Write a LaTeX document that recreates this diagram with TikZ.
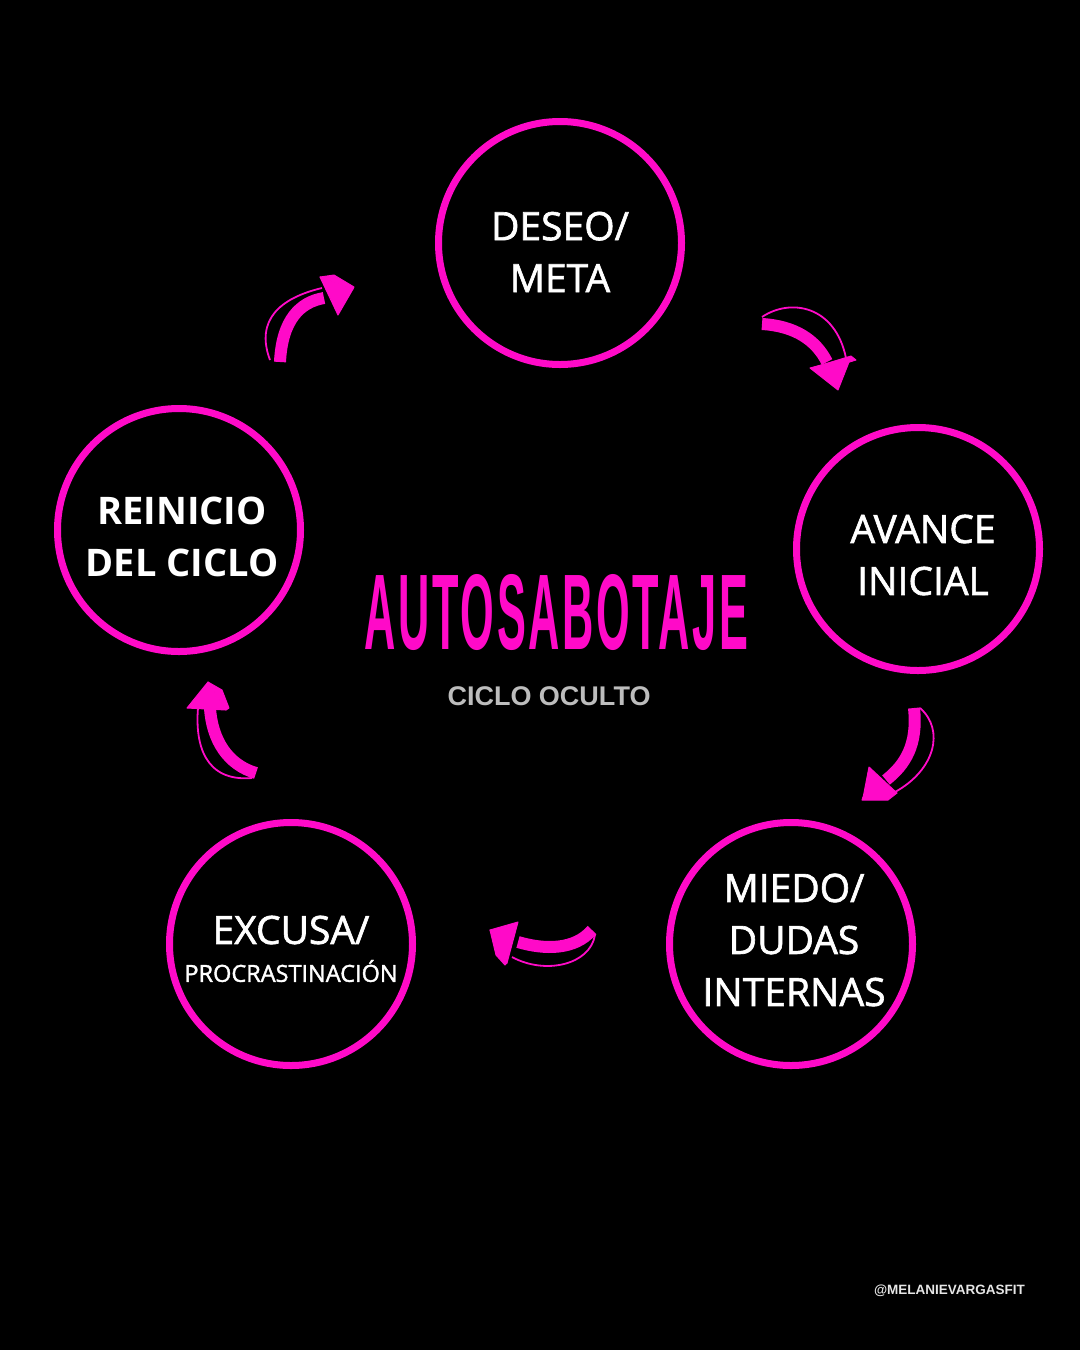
\documentclass[tikz,border=0pt]{standalone}
\usepackage{fontspec}
\setmainfont{Open Sans}
\newfontfamily\lblfont[FakeBold=1.6]{Open Sans}
\newfontfamily\arialfont{Liberation Sans}
\newfontfamily\titlefont[LetterSpace=6]{Liberation Sans}
\definecolor{mag}{HTML}{FF0AC8}
\definecolor{subgray}{HTML}{BDBDBD}
\definecolor{footgray}{HTML}{E6E6E6}
\begin{document}
\begin{tikzpicture}[x=1pt,y=-1pt,
  stage/.style={circle, draw=mag, line width=7pt, minimum size=243pt, inner sep=0pt},
  lbl/.style={text=white, font=\lblfont\fontsize{39}{52}\selectfont, align=center, inner sep=0pt},
  band/.style={draw=mag, line width=12pt},
  thinline/.style={draw=mag, line width=1.8pt},
  head/.style={fill=mag, draw=mag, line width=1pt, line join=round}]
\fill[black] (0,0) rectangle (1080,1350);
\useasboundingbox (0,0) rectangle (1080,1350);

% circles
\node[stage] (c1) at (560,243) {};
\node[stage] (c2) at (918,549) {};
\node[stage] (c3) at (791,944) {};
\node[stage] (c4) at (291,944) {};
\node[stage] (c5) at (179,530) {};

% labels
\node[lbl] (t1) at (560,252) {DESEO/\\META};
\node[lbl] (t2) at (923,555) {AVANCE\\INICIAL};
\node[lbl] (t3) at (794,940) {MIEDO/\\DUDAS\\INTERNAS};
\node[lbl] (t4) at (291,930) {EXCUSA/};
\node[text=white, font=\lblfont\fontsize{23.5}{26}\selectfont, inner sep=0pt] (t4b) at (291,971) {PROCRASTINACIÓN};
\node[lbl, font=\fontsize{38}{52}\selectfont\bfseries] (t5) at (182,537) {REINICIO\\DEL CICLO};

% title
\node[inner sep=0pt, text=mag] (title) at (556.5,612.5) {\resizebox{383pt}{75pt}{\titlefont\bfseries AUTOSABOTAJE}};
\node[text=subgray, font=\arialfont\bfseries\fontsize{27}{30}\selectfont, inner sep=0pt] (sub) at (549,696) {CICLO OCULTO};
\node[text=footgray, font=\arialfont\bfseries\fontsize{13.5}{16}\selectfont, inner sep=0pt] (foot) at (949.5,1291) {@MELANIEVARGASFIT};

% arrow 1: c1 -> c2
\draw[band] (762,324) .. controls (795,326) and (816,340) .. (827,362);
\draw[thinline] (762,317) .. controls (790,298) and (835,305) .. (846,358);
\fill[head] (812,368) -- (817,372) -- (856,360) -- (851,356) -- cycle;
\fill[head] (810,368) -- (851,357) -- (838,390) -- cycle;

% arrow 2: c2 -> c3
\draw[band] (914,708) .. controls (918,745) and (905,765) .. (886,780);
\draw[thinline] (920,708) .. controls (945,730) and (935,770) .. (895,792);
\fill[head] (897,793) -- (888,800) -- (862,800) -- (863,797) -- cycle;
\fill[head] (869,767) -- (897,793) -- (863,798) -- cycle;

% arrow 3: c3 -> c4
\draw[band] (592,930) .. controls (575,950) and (545,950) .. (518,942);
\draw[thinline] (595,935) .. controls (590,965) and (545,975) .. (512,957);
\fill[head] (490,930) -- (496,955) -- (505,965) -- (507,963) -- cycle;
\fill[head] (518,922) -- (507,963) -- (490,930) -- cycle;

% arrow 4: c4 -> c5
\draw[band] (256,773) .. controls (228,765) and (212,740) .. (210,708);
\draw[thinline] (252,778) .. controls (205,782) and (195,745) .. (198,708);
\fill[head] (208,682) -- (222,690) -- (229,708) -- (226,710) -- cycle;
\fill[head] (187,708) -- (226,710) -- (208,682) -- cycle;

% arrow 5: c5 -> c1
\draw[band] (280,362) .. controls (282,320) and (300,302) .. (324,298);
\draw[thinline] (270,360) .. controls (255,320) and (280,298) .. (322,288);
\fill[head] (320,277) -- (334,275) -- (354,287) -- (353,289) -- cycle;
\fill[head] (320,277) -- (338,315) -- (353,289) -- cycle;
\end{tikzpicture}
\end{document}
